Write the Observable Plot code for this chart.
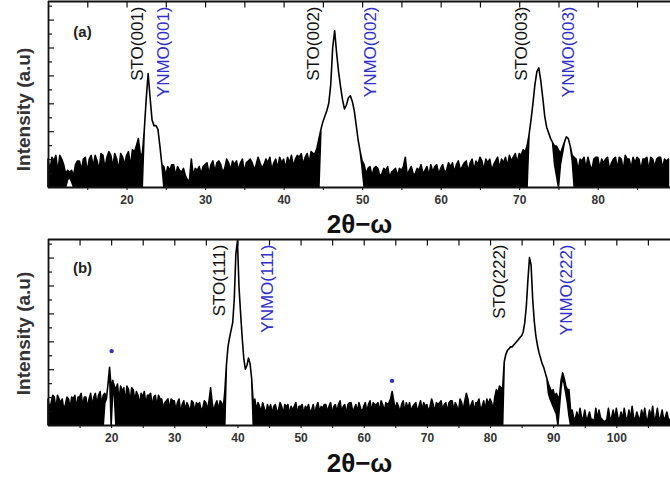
<!DOCTYPE html>
<html><head><meta charset="utf-8">
<script src="https://cdn.jsdelivr.net/npm/d3@7"></script>
<script src="https://cdn.jsdelivr.net/npm/@observablehq/plot@0.6"></script>
<style>
body{margin:0;background:#fff;font-family:"Liberation Sans",Arial,sans-serif}
#chart{width:670px;height:479px;overflow:hidden}
#chart svg{display:block}
</style>
</head><body><div id="chart"></div>
<script>
// 2θ scan grid (degrees, 0.25° bins). The dense noisy trace is kept as the
// upper (hi) and lower (lo) extent of the signal within each bin
// (arbitrary units, 0–100 of panel height).
const startA = 10, stepA = 0.25;
const hiA = [
  15, 9, 16, 14, 17, 8, 17, 15,
  12, 7, 9, 8, 9, 6, 12, 14,
  14, 9, 15, 16, 8, 15, 17, 11,
  17, 14, 9, 18, 17, 10, 16, 19,
  17, 11, 18, 15, 9, 18, 16, 12,
  17, 19, 11, 20, 19, 22, 26, 18,
  17, 30, 47, 61, 48, 36, 33, 33,
  31, 22, 12, 11, 6, 11, 9, 12,
  12, 6, 11, 9, 8, 10, 6, 4,
  3, 15, 6, 10, 9, 11, 7, 11,
  12, 13, 7, 12, 14, 8, 13, 14,
  12, 8, 10, 15, 13, 9, 14, 12,
  14, 9, 13, 15, 8, 13, 14, 15,
  13, 9, 12, 16, 13, 10, 12, 15,
  13, 16, 9, 13, 15, 10, 16, 13,
  15, 10, 16, 13, 17, 11, 15, 17,
  16, 18, 12, 16, 18, 13, 19, 18,
  18, 21, 26, 31, 35, 38, 41, 45,
  55, 75, 84, 72, 62, 54, 47, 42,
  44, 48, 49, 46, 41, 33, 25, 19,
  14, 12, 7, 10, 11, 6, 10, 11,
  10, 6, 7, 10, 9, 11, 5, 8,
  9, 10, 6, 10, 9, 11, 16, 6,
  9, 11, 7, 7, 10, 9, 12, 7,
  9, 11, 6, 12, 8, 11, 12, 7,
  10, 12, 8, 9, 13, 11, 13, 8,
  12, 14, 9, 11, 13, 14, 8, 13,
  15, 9, 14, 12, 16, 14, 9, 15,
  13, 15, 9, 12, 14, 16, 10, 15,
  13, 16, 11, 17, 14, 16, 18, 13,
  18, 17, 20, 19, 22, 28, 36, 45,
  55, 62, 64, 57, 48, 38, 32, 29,
  26, 24, 22, 22, 20, 18, 21, 24,
  27, 26, 22, 17, 16, 15, 9, 15,
  14, 16, 10, 16, 12, 9, 15, 16,
  16, 10, 15, 13, 15, 16, 9, 13,
  15, 16, 10, 16, 15, 9, 17, 15,
  15, 10, 16, 13, 16, 15, 9, 15,
  15, 16, 9, 16, 15, 11, 15, 16,
  16, 10, 15, 14, 15
];
const loA = [
  0, 0, 0, 0, 0, 0, 0, 0,
  0, 0, 4, 5, 3, 0, 0, 0,
  0, 0, 0, 0, 0, 0, 0, 0,
  0, 0, 0, 0, 0, 0, 0, 0,
  0, 0, 0, 0, 0, 0, 0, 0,
  0, 0, 0, 0, 0, 0, 0, 0,
  0, 30, 47, 61, 48, 36, 33, 33,
  31, 22, 12, 0, 0, 0, 0, 0,
  0, 0, 0, 0, 0, 0, 0, 0,
  0, 0, 0, 0, 0, 0, 0, 0,
  0, 0, 0, 0, 0, 0, 0, 0,
  0, 0, 0, 0, 0, 0, 0, 0,
  0, 0, 0, 0, 0, 0, 0, 0,
  0, 0, 0, 0, 0, 0, 0, 0,
  0, 0, 0, 0, 0, 0, 0, 0,
  0, 0, 0, 0, 0, 0, 0, 0,
  0, 0, 0, 0, 0, 0, 0, 0,
  0, 0, 0, 31, 35, 38, 41, 45,
  55, 75, 84, 72, 62, 54, 47, 42,
  44, 48, 49, 46, 41, 33, 25, 19,
  10, 0, 0, 0, 0, 0, 0, 0,
  0, 0, 0, 0, 0, 0, 0, 0,
  0, 0, 0, 0, 0, 0, 0, 0,
  0, 0, 0, 0, 0, 0, 0, 0,
  0, 0, 0, 0, 0, 0, 0, 0,
  0, 0, 0, 0, 0, 0, 0, 0,
  0, 0, 0, 0, 0, 0, 0, 0,
  0, 0, 0, 0, 0, 0, 0, 0,
  0, 0, 0, 0, 0, 0, 0, 0,
  0, 0, 0, 0, 0, 0, 0, 0,
  0, 0, 0, 0, 0, 28, 36, 45,
  55, 62, 64, 57, 48, 38, 32, 29,
  26, 24, 12, 6, 0, 12, 18, 24,
  27, 26, 22, 14, 0, 0, 0, 0,
  0, 0, 0, 0, 0, 0, 0, 0,
  0, 0, 0, 0, 0, 0, 0, 0,
  0, 0, 0, 0, 0, 0, 0, 0,
  0, 0, 0, 0, 0, 0, 0, 0,
  0, 0, 0, 0, 0, 0, 0, 0,
  0, 0, 0, 0, 0
];
const startB = 10, stepB = 0.25;
const hiB = [
  14, 9, 12, 16, 15, 8, 16, 14,
  12, 14, 8, 11, 15, 14, 9, 15,
  14, 16, 9, 15, 15, 17, 10, 15,
  15, 9, 14, 17, 10, 15, 17, 11,
  16, 18, 11, 16, 17, 14, 22, 31,
  20, 24, 21, 19, 22, 13, 21, 18,
  20, 12, 21, 19, 12, 20, 19, 13,
  18, 16, 11, 17, 15, 18, 11, 16,
  16, 17, 10, 15, 16, 10, 16, 14,
  14, 9, 12, 13, 14, 8, 14, 13,
  13, 8, 12, 14, 7, 11, 13, 8,
  12, 10, 7, 13, 12, 7, 12, 11,
  12, 8, 9, 13, 12, 8, 13, 20,
  12, 7, 11, 13, 8, 13, 12, 9,
  18, 32, 42, 47, 51, 55, 68, 92,
  99, 74, 60, 47, 36, 30, 32, 36,
  33, 25, 12, 14, 8, 12, 10, 7,
  12, 9, 6, 11, 8, 11, 6, 10,
  11, 7, 8, 12, 10, 6, 11, 10,
  11, 6, 10, 8, 10, 12, 6, 10,
  10, 11, 6, 10, 9, 11, 7, 8,
  11, 6, 10, 12, 7, 10, 9, 11,
  11, 7, 10, 12, 6, 10, 11, 7,
  11, 13, 7, 10, 11, 6, 11, 12,
  12, 7, 9, 11, 7, 12, 9, 7,
  10, 12, 7, 11, 13, 7, 12, 11,
  11, 12, 7, 13, 11, 7, 12, 11,
  12, 14, 18, 13, 8, 12, 10, 7,
  11, 13, 7, 12, 9, 12, 7, 10,
  11, 12, 7, 10, 13, 8, 12, 10,
  11, 7, 10, 14, 11, 7, 12, 11,
  12, 13, 8, 11, 12, 7, 12, 13,
  13, 8, 12, 10, 7, 14, 12, 8,
  13, 17, 14, 8, 11, 13, 7, 12,
  12, 14, 8, 10, 13, 8, 14, 11,
  14, 12, 8, 15, 19, 17, 21, 20,
  20, 34, 38, 40, 41, 42, 42, 43,
  44, 45, 46, 47, 48, 50, 55, 64,
  78, 90, 86, 68, 56, 48, 43, 39,
  36, 33, 31, 28, 25, 22, 20, 18,
  19, 15, 17, 15, 15, 24, 28, 25,
  21, 19, 19, 8, 8, 4, 3, 7,
  3, 9, 4, 3, 8, 3, 4, 7,
  3, 3, 2, 9, 3, 8, 4, 3,
  2, 2, 3, 9, 3, 4, 8, 3,
  9, 4, 3, 7, 3, 9, 4, 3,
  8, 3, 10, 4, 3, 7, 4, 3,
  8, 4, 9, 3, 3, 8, 4, 10,
  3, 4, 9, 3, 4, 8, 3, 4,
  7, 3, 3
];
const loB = [
  0, 0, 0, 0, 0, 0, 0, 0,
  0, 0, 0, 0, 0, 0, 0, 0,
  0, 0, 0, 0, 0, 0, 0, 0,
  0, 0, 0, 0, 0, 0, 0, 0,
  0, 0, 0, 0, 12, 14, 22, 28,
  0, 18, 16, 0, 0, 0, 0, 0,
  0, 0, 0, 0, 0, 0, 0, 0,
  0, 0, 0, 0, 0, 0, 0, 0,
  0, 0, 0, 0, 0, 0, 0, 0,
  0, 0, 0, 0, 0, 0, 0, 0,
  0, 0, 0, 0, 0, 0, 0, 0,
  0, 0, 0, 0, 0, 0, 0, 0,
  0, 0, 0, 0, 0, 0, 0, 0,
  0, 0, 0, 0, 0, 0, 0, 0,
  0, 32, 42, 47, 51, 55, 68, 92,
  99, 74, 60, 47, 36, 30, 32, 36,
  33, 25, 0, 0, 0, 0, 0, 0,
  0, 0, 0, 0, 0, 0, 0, 0,
  0, 0, 0, 0, 0, 0, 0, 0,
  0, 0, 0, 0, 0, 0, 0, 0,
  0, 0, 0, 0, 0, 0, 0, 0,
  0, 0, 0, 0, 0, 0, 0, 0,
  0, 0, 0, 0, 0, 0, 0, 0,
  0, 0, 0, 0, 0, 0, 0, 0,
  0, 0, 0, 0, 0, 0, 0, 0,
  0, 0, 0, 0, 0, 0, 0, 0,
  0, 0, 0, 0, 0, 0, 0, 0,
  0, 0, 0, 0, 0, 0, 0, 0,
  0, 0, 0, 0, 0, 0, 0, 0,
  0, 0, 0, 0, 0, 0, 0, 0,
  0, 0, 0, 0, 0, 0, 0, 0,
  0, 0, 0, 0, 0, 0, 0, 0,
  0, 0, 0, 0, 0, 0, 0, 0,
  0, 0, 0, 0, 0, 0, 0, 0,
  0, 0, 0, 0, 0, 0, 0, 0,
  0, 0, 0, 0, 0, 0, 0, 0,
  0, 34, 38, 40, 41, 42, 42, 43,
  44, 45, 46, 47, 48, 50, 55, 64,
  78, 90, 86, 68, 56, 48, 43, 39,
  36, 33, 31, 28, 25, 17, 14, 12,
  10, 8, 6, 0, 10, 20, 26, 22,
  17, 12, 5, 0, 0, 0, 0, 0,
  0, 0, 0, 0, 0, 0, 0, 0,
  0, 0, 0, 0, 0, 0, 0, 0,
  0, 0, 0, 0, 0, 0, 0, 0,
  0, 0, 0, 0, 0, 0, 0, 0,
  0, 0, 0, 0, 0, 0, 0, 0,
  0, 0, 0, 0, 0, 0, 0, 0,
  0, 0, 0, 0, 0, 0, 0, 0,
  0, 0, 0
];

const peakTextA = ["STO(001)", "YNMO(001)", "STO(002)", "YNMO(002)", "STO(003)", "YNMO(003)"];
const peakPosA  = [21.4, 24.7, 43.7, 51.0, 70.2, 76.2];
const peakTextB = ["STO(111)", "YNMO(111)", "STO(222)", "YNMO(222)"];
const peakPosB  = [37.1, 44.7, 81.5, 92.1];
const starPosB = [20.0, 64.4];
const starValB = [40, 24];

const xTicksA = [15, 20, 25, 30, 35, 40, 45, 50, 55, 60, 65, 70, 75, 80, 85];
const xLabelsA = [20, 30, 40, 50, 60, 70, 80];
const xTicksB = [15, 20, 25, 30, 35, 40, 45, 50, 55, 60, 65, 70, 75, 80, 85, 90, 95, 100, 105];
const xLabelsB = [20, 30, 40, 50, 60, 70, 80, 90, 100];
const yTicks = [7.5, 15, 22.5, 30, 37.5, 45, 52.5, 60, 67.5, 75, 82.5, 90, 97.5];

const FONT = "Liberation Sans, Arial, sans-serif";
const BLUE = "#3030c8";

function panel(o) {
  const rows = o.hi.map((v, i) => ({x: o.start + i * o.step, hi: v, lo: o.lo[i]}));
  const x0 = o.xDomain[0];
  const unit = (670 - 48) / (o.xDomain[1] - o.xDomain[0]);
  const labels = o.peakText.map((t, i) => ({t, x: o.peakPos[i], blue: t.startsWith("YNMO")}));
  return Plot.plot({
    width: 670, height: o.height,
    marginLeft: 48, marginRight: 0, marginTop: o.marginTop, marginBottom: o.marginBottom,
    x: {domain: o.xDomain},
    y: {domain: [0, 100], axis: null},
    style: {fontFamily: FONT, background: "white", overflow: "visible"},
    marks: [
      Plot.axisX({ticks: o.xTicks, tickSize: 3, tickPadding: 5, label: null,
        tickFormat: d => o.xLabels.includes(d) ? String(d) : "",
        fontSize: 12, fontWeight: "bold", fill: "#333"}),
      Plot.areaY(rows, {x: "x", y1: "lo", y2: "hi", fill: "#000", stroke: "#000",
        strokeWidth: 1.6, strokeLinejoin: "round"}),
      Plot.ruleY([0, 100], {stroke: "#111", strokeWidth: 1.8}),
      Plot.ruleX([x0], {stroke: "#111", strokeWidth: 1.8}),
      Plot.ruleX(o.xTicks, {y1: 100, y2: 96.5, stroke: "#111", strokeWidth: 1.2}),
      Plot.ruleY(yTicks, {x1: x0, x2: (d, i) => x0 + (i % 2 ? 6 : 4) / unit, stroke: "#111", strokeWidth: 1.2}),
      Plot.text(labels, {x: "x", text: "t", frameAnchor: "top", rotate: -90, textAnchor: "end", lineAnchor: "middle",
        dy: o.labelDy, fontSize: 17, fill: d => d.blue ? BLUE : "#111",
        fontWeight: d => d.blue ? "bold" : "normal"}),
      ...(o.stars ? [Plot.dot(o.stars.x.map((x, i) => ({x, y: o.stars.y[i]})), {x: "x", y: "y", r: 2.2, fill: BLUE})] : []),
      Plot.text([o.tag], {frameAnchor: "top-left", textAnchor: "middle", lineAnchor: "middle",
        dx: 34, dy: o.tagDy, fontSize: 15, fontWeight: "bold", fill: "#222"}),
      Plot.text(["Intensity (a.u)"], {frameAnchor: "left", rotate: -90, textAnchor: "middle", lineAnchor: "middle",
        dx: -25, dy: o.yLabelDy, fontSize: 19, fontWeight: "bold", fill: "#333"}),
      Plot.text(["2θ−ω"], {frameAnchor: "bottom", textAnchor: "middle", lineAnchor: "middle",
        dy: o.xTitleDy, fontSize: 26, fontWeight: "bold", fill: "#111"})
    ]
  });
}

const chart = document.getElementById("chart");
chart.append(panel({
  hi: hiA, lo: loA, start: startA, step: stepA, xDomain: [10, 89.2],
  xTicks: xTicksA, xLabels: xLabelsA, peakText: peakTextA, peakPos: peakPosA,
  height: 238, marginTop: 1, marginBottom: 51, labelDy: 5, tag: "(a)", tagDy: 31,
  yLabelDy: 15, xTitleDy: 37
}));
chart.append(panel({
  hi: hiB, lo: loB, start: startB, step: stepB, xDomain: [10, 108.5],
  xTicks: xTicksB, xLabels: xLabelsB, peakText: peakTextB, peakPos: peakPosB,
  stars: {x: starPosB, y: starValB},
  height: 241, marginTop: 1, marginBottom: 54, labelDy: 5, tag: "(b)", tagDy: 29,
  yLabelDy: 1, xTitleDy: 38
}));
</script>
</body></html>
